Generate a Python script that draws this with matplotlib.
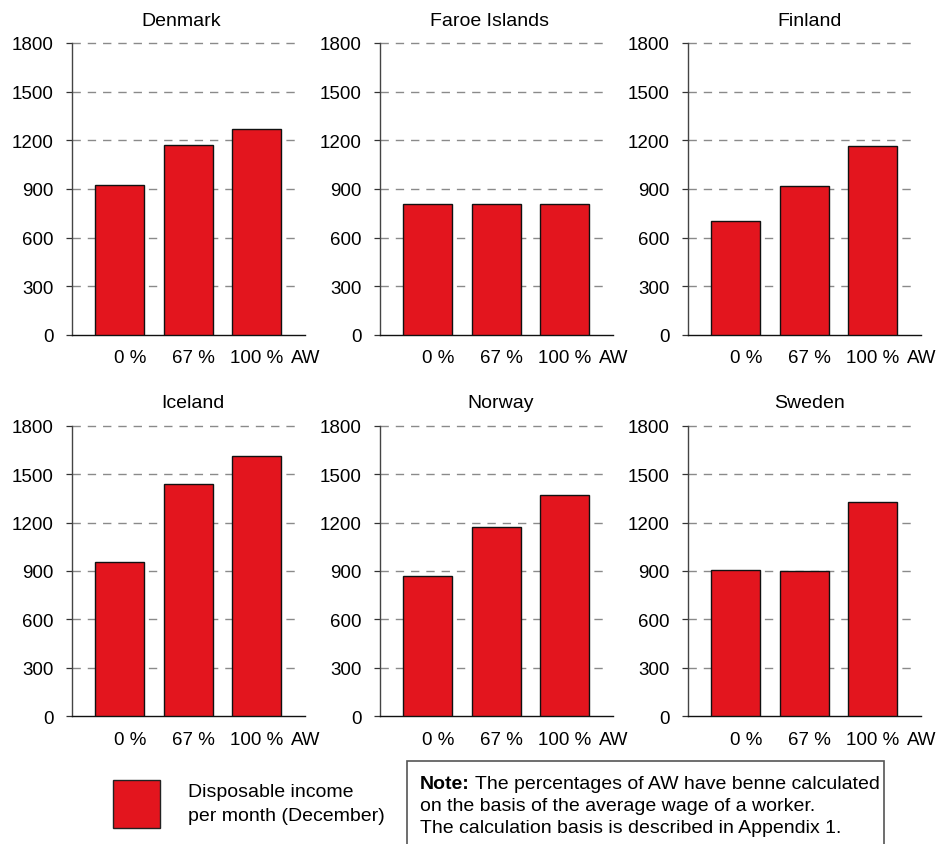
import matplotlib
matplotlib.use("Agg")
import matplotlib.pyplot as plt
from matplotlib.patches import Rectangle

plt.rcParams['font.family'] = ['Liberation Sans', 'DejaVu Sans']

# Disposable income per month (December) at 0 %, 67 % and 100 % of the average wage
countries = ["Denmark", "Faroe Islands", "Finland", "Iceland", "Norway", "Sweden"]
categories = ["0 %", "67 %", "100 %"]
denmark = [925, 1170, 1268]
faroe_islands = [810, 810, 810]
finland = [700, 918, 1167]
iceland = [957, 1438, 1612]
norway = [866, 1172, 1373]
sweden = [906, 898, 1326]
series = [denmark, faroe_islands, finland, iceland, norway, sweden]
y_ticks = [0, 300, 600, 900, 1200, 1500, 1800]

BAR_COLOR = "#E3151E"
W, H = 938, 845
fig = plt.figure(figsize=(W / 100, H / 100), dpi=100)

col_left = [72, 380, 688]          # pixel x of each column's y-axis
row_top = [44, 426.7]              # pixel y of the 1800 line
row_zero = [336, 717.3]            # pixel y of the zero line
ax_width = 233
title_shift = [-7, -7, 5, 4.5, 4.5, 5]   # horizontal title nudge, pixels

bar_w = 0.71
x = list(range(len(categories)))

for i, (name, vals) in enumerate(zip(countries, series)):
    r, c = divmod(i, 3)
    left = col_left[c] / W
    bottom = (H - row_zero[r]) / H
    ax_h_px = row_zero[r] - row_top[r]
    ax = fig.add_axes([left, bottom, ax_width / W, ax_h_px / H])

    ax.bar(x, vals, width=bar_w, color=BAR_COLOR, edgecolor="#111111",
           linewidth=1.0, zorder=3)

    ax.set_xlim(-0.69, 2.70)
    ax.set_ylim(0, 1800)
    ax.set_yticks(y_ticks)
    ax.tick_params(axis="y", direction="out", length=4.3, width=0.9,
                   pad=9.0, labelsize=13.5, color="#333333")
    ax.tick_params(axis="x", length=0, labelbottom=False)

    # dashed horizontal guides, stopping just short of the axis end
    for t in y_ticks[1:]:
        ax.plot([0, 0.97], [t, t], transform=ax.get_yaxis_transform(),
                color="#8a8a8a", linewidth=1.0, linestyle=(0, (6, 5)),
                zorder=1, clip_on=False)

    for s in ("top", "right"):
        ax.spines[s].set_visible(False)
    ax.spines["left"].set_color("#444444")
    ax.spines["left"].set_linewidth(1.0)
    ax.spines["bottom"].set_color("#111111")
    ax.spines["bottom"].set_linewidth(1.0)

    # category labels, right-aligned with each bar's right edge
    label_y = -23.0 / ax_h_px * 1800
    for xi, lab in zip(x, categories):
        ax.text(xi + bar_w / 2 + 0.03, label_y, lab, ha="right", va="center",
                fontsize=13.5, clip_on=False)
    ax.text(2.50, label_y, "AW", ha="left", va="center", fontsize=13.5,
            clip_on=False)

    ax.text(0.5 + title_shift[i] / ax_width, 1.0 + 23 / ax_h_px, name,
            ha="center", va="center", fontsize=14, transform=ax.transAxes)

# legend swatch and text
fig.patches.append(Rectangle((113 / W, (H - 829) / H), 47 / W, 48 / H,
                             transform=fig.transFigure, facecolor=BAR_COLOR,
                             edgecolor="#222222", linewidth=1.0))
fig.text(188 / W, (H - 793) / H, "Disposable income", ha="left", va="center",
         fontsize=14)
fig.text(188 / W, (H - 817) / H, "per month (December)", ha="left",
         va="center", fontsize=14)

# note box (open at the bottom edge of the figure)
fig.patches.append(Rectangle((407 / W, -0.05), (884 - 407) / W,
                             (H - 762) / H + 0.05, transform=fig.transFigure,
                             facecolor="white", edgecolor="#555555",
                             linewidth=1.2, clip_on=False))
note_lines = [
    "The percentages of AW have benne calculated",
    "on the basis of the average wage of a worker.",
    "The calculation basis is described in Appendix 1.",
]
bold = fig.text(420 / W, (H - 785) / H, "Note:", ha="left", va="center",
                fontsize=14, fontweight="bold")
fig.canvas.draw()
bb = bold.get_window_extent()
fig.text((bb.x1 + 5) / W, (H - 785) / H, note_lines[0], ha="left",
         va="center", fontsize=14)
fig.text(420 / W, (H - 807) / H, note_lines[1], ha="left", va="center",
         fontsize=14)
fig.text(420 / W, (H - 829) / H, note_lines[2], ha="left", va="center",
         fontsize=14)

fig.savefig("out.png", dpi=100)
